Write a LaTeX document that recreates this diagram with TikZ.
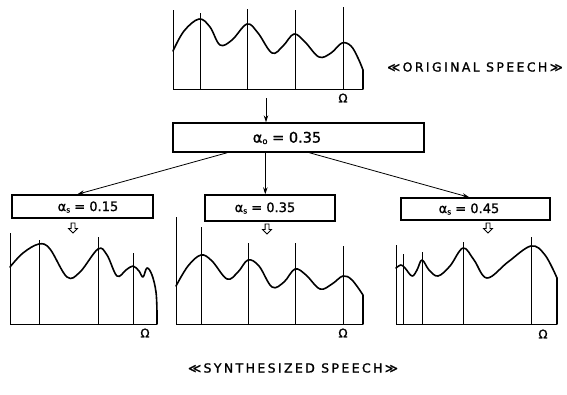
\documentclass[tikz,border=0pt]{standalone}
\usepackage{fontspec}
\setmainfont{DejaVu Sans}[FakeBold=1.2]
\usetikzlibrary{arrows.meta,shapes.arrows}
\begin{document}
\begin{tikzpicture}[x=1pt,y=-1pt,
  curve/.style={line width=1.6pt,line join=round,line cap=round},
  grid/.style={line width=0.9pt},
  frame/.style={line width=0.9pt},
  parbox/.style={draw,line width=1.4pt,inner sep=0pt},
  val/.style={inner sep=0pt,font=\fontsize{14.5}{14.5}\selectfont},
  sval/.style={inner sep=0pt,font=\fontsize{13}{13}\selectfont},
  omega/.style={inner sep=0pt,font=\fontsize{12}{12}\selectfont},
  caption/.style={inner sep=0pt,font=\fontsize{12.5}{13}\selectfont\addfontfeatures{LetterSpace=19}},
  flow/.style={line width=0.8pt,-{Stealth[length=7pt,width=4.5pt]}},
  hollow/.style={single arrow,draw,line width=0.8pt,shape border rotate=270,
    minimum height=10pt,minimum width=8pt,single arrow head extend=2.5pt,inner sep=1.5pt}
]
\useasboundingbox (0,0) rectangle (567,394);

% ---- original spectrum ----
\draw[frame] (173,10) -- (173,89) -- (363,89);
\foreach \x/\t in {200/13,247/9,295/10,343/7} \draw[grid] (\x,\t) -- (\x,89);
\draw[curve] plot[smooth,tension=0.6] coordinates {
  (173,51) (184,31) (199,19) (210,27) (220,45) (232,40) (247,24) (258,33) (272,53) (283,46)
  (294,34) (305,42) (319,57) (331,53) (342,43) (351,46) (358,58) (363,70)} -- (363,89);
\node[omega] (om0) at (343,98) {Ω};
\coordinate (src) at (266,98);

% ---- analysis box ----
\node[parbox,minimum width=251pt,minimum height=29pt] (b0) at (298.5,137.5) {};
\node[val] (t0) at (287,138) {α\raisebox{-1.5pt}{\fontsize{8.5}{8.5}\selectfont o} = 0.35};
\node[caption] (cap1) at (475,67) {≪ORIGINAL SPEECH≫};

% ---- synthesis boxes ----
\node[parbox,minimum width=141pt,minimum height=23pt] (bl) at (82.5,206.5) {};
\node[parbox,minimum width=130pt,minimum height=26pt] (bm) at (270,208) {};
\node[parbox,minimum width=149pt,minimum height=22pt] (br) at (475.5,209) {};
\node[sval] (tl) at (88,207) {α\raisebox{-1.5pt}{\fontsize{7.5}{7.5}\selectfont s} = 0.15};
\node[sval] (tm) at (265,208) {α\raisebox{-1.5pt}{\fontsize{7.5}{7.5}\selectfont s} = 0.35};
\node[sval] (tr) at (469,209) {α\raisebox{-1.5pt}{\fontsize{7.5}{7.5}\selectfont s} = 0.45};

% ---- connectors ----
\draw[flow] (src) -- (src |- b0.north);
\draw[flow] ([xshift=55pt]b0.south west) -- ([xshift=66pt]bl.north west);
\draw[flow] ([xshift=93pt]b0.south west) -- ([xshift=61pt]bm.north west);
\draw[flow] ([xshift=137pt]b0.south west) -- ([xshift=69pt]br.north west);

\node[hollow] (hl) at (73,227) {};
\node[hollow] (hm) at (267,228) {};
\node[hollow] (hr) at (488,227) {};

% ---- synthesized spectrum, alpha_s = 0.15 ----
\draw[frame] (10,233) -- (10,324) -- (157,324);
\foreach \x/\t in {39/240,98/237,133/253} \draw[grid] (\x,\t) -- (\x,324);
\draw[curve] plot[smooth,tension=0.6] coordinates {
  (10,267) (23,253) (39,244) (50,249) (67,277) (80,272) (98,249) (107,255) (117,276)
  (126,270) (133,266) (139,271) (143,277) (147,268) (152,275) (156,292) (157,313)} -- (157,324);
\node[omega] (om1) at (145,333) {Ω};

% ---- synthesized spectrum, alpha_s = 0.35 ----
\draw[frame] (176,217) -- (176,324) -- (363,324);
\foreach \x/\t in {201/227,248/243,295/243,343/246} \draw[grid] (\x,\t) -- (\x,324);
\draw[curve] plot[smooth,tension=0.6] coordinates {
  (176,286) (188,266) (201,255) (212,261) (227,279) (238,272) (248,260) (259,266) (272,287)
  (284,282) (295,269) (306,275) (320,289) (332,284) (343,276) (352,280) (363,295)} -- (363,324);
\node[omega] (om2) at (343,333) {Ω};

% ---- synthesized spectrum, alpha_s = 0.45 ----
\draw[frame] (396,245) -- (396,324) -- (557,324);
\foreach \x/\t in {403/254,422/252,463/242,531/237} \draw[grid] (\x,\t) -- (\x,324);
\draw[curve] plot[smooth,tension=0.6] coordinates {
  (396,268) (401,265) (405,268) (412,276) (417,270) (422,260) (429,270) (438,276) (450,266)
  (463,248) (474,260) (487,278) (508,262) (531,246) (545,255) (557,278)} -- (557,324);
\node[omega] (om3) at (543,334) {Ω};

\node[caption] (cap2) at (293,368) {≪SYNTHESIZED SPEECH≫};
\end{tikzpicture}
\end{document}
